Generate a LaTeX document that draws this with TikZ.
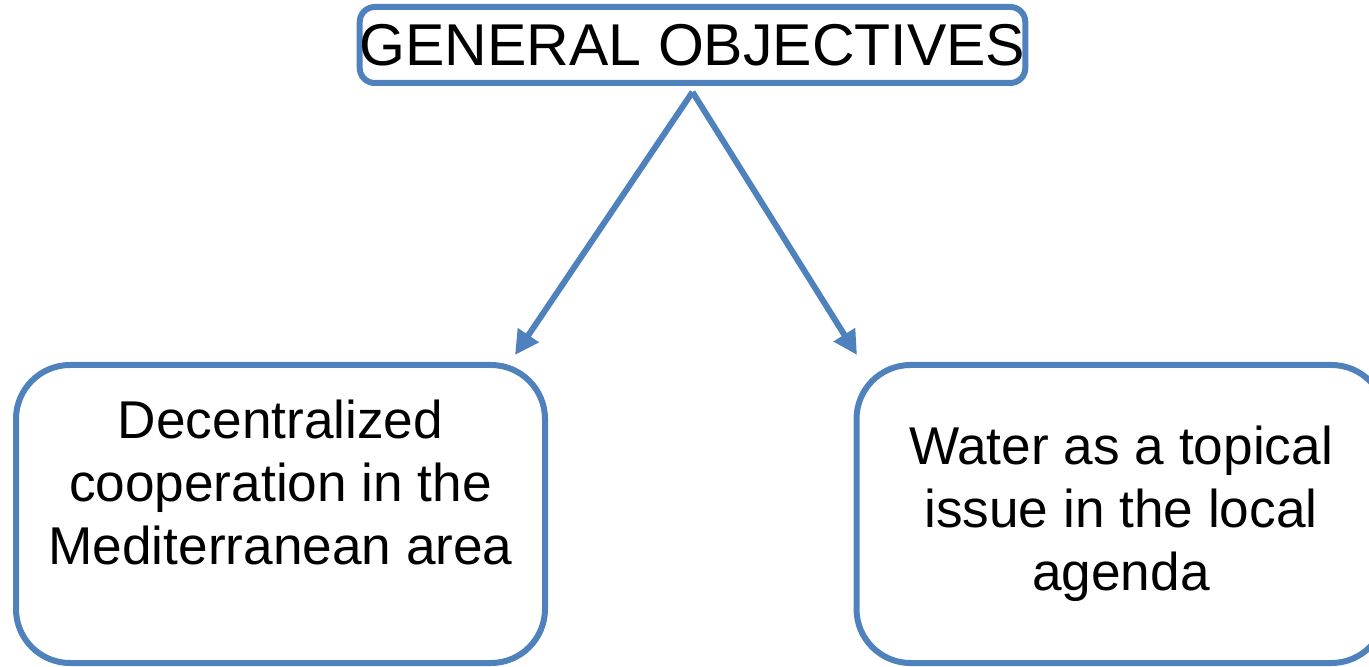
\documentclass[tikz,border=0pt]{standalone}
\usepackage{fontspec}
\setmainfont{Liberation Sans}
\usetikzlibrary{arrows.meta}
\definecolor{boxblue}{RGB}{79,129,189}

\begin{document}
\begin{tikzpicture}[x=0.5pt, y=-0.5pt,
		head/.style={draw=boxblue, line width=3pt, rounded corners=7.5pt, minimum width=332.5pt, minimum height=38pt, inner sep=0pt, font=\fontsize{29.5}{35}\selectfont},
		goal/.style={draw=boxblue, line width=3pt, rounded corners=27pt, minimum width=264.5pt, minimum height=149pt, inner sep=0pt, align=center, font=\fontsize{26.6}{31.5}\selectfont},
		link/.style={draw=boxblue, line width=3pt, -{Triangle[length=12pt 0 0, width=12pt 0 0]}}]

		\useasboundingbox (0,0) rectangle (1369,667);

		\node[head] (top) at (692.5,45) {GENERAL OBJECTIVES};
		\node[goal] (left) at (280.5,514) {Decentralized\\cooperation in the\\Mediterranean area\\ ~};
		\node[goal] (right) at (1121,514) {Water as a topical\\issue in the local\\agenda};

		\coordinate (apex) at ([yshift=-3pt]top.south);
		\coordinate (tipL) at (515,355);
		\coordinate (tipR) at (857,355);

		\draw[link] (apex) -- (tipL);
		\draw[link] (apex) -- (tipR);
		\end{tikzpicture}
\end{document}
